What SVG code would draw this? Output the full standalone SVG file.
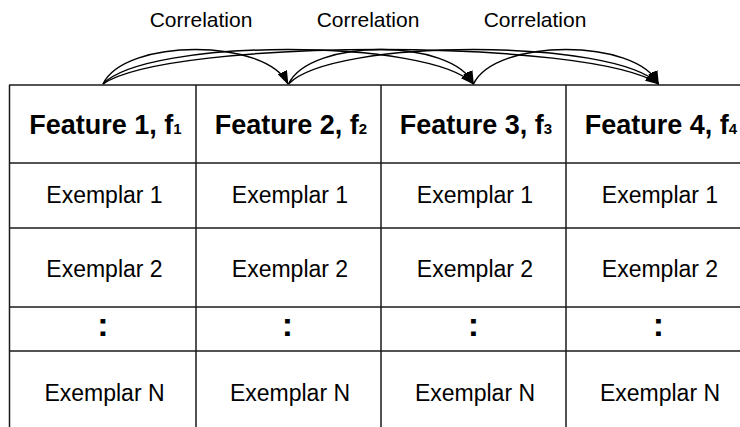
<svg xmlns="http://www.w3.org/2000/svg" width="740" height="427" viewBox="0 0 740 427">
  <style>
    .grid { stroke: #1a1a1a; stroke-width: 1.5; fill: none; }
    .hdr { font-family: "Liberation Sans", Arial, sans-serif; font-weight: bold; font-size: 27px; fill: #000; text-anchor: middle; }
    .sub { font-size: 15px; }
    .cell { font-family: "Liberation Sans", Arial, sans-serif; font-size: 23px; fill: #000; text-anchor: middle; }
    .dots { font-family: "Liberation Sans", Arial, sans-serif; font-weight: bold; font-size: 34px; fill: #000; text-anchor: middle; }
    .lbl { font-family: "Liberation Sans", Arial, sans-serif; font-size: 21px; fill: #000; text-anchor: middle; }
    .arc { stroke: #000; stroke-width: 1.5; fill: none; marker-end: url(#arrow); }
  </style>
  <defs>
    <marker id="arrow" markerUnits="userSpaceOnUse" viewBox="0 0 14 10" refX="13" refY="5" markerWidth="14" markerHeight="10" orient="auto">
      <path d="M0,0 L14,5 L0,10 z" fill="#000"/>
    </marker>
  </defs>
  <rect x="0" y="0" width="740" height="427" fill="#fff"/>

  <g id="table-grid" class="grid">
    <line x1="9" y1="85" x2="740" y2="85"/>
    <line x1="9" y1="163" x2="740" y2="163"/>
    <line x1="9" y1="228" x2="740" y2="228"/>
    <line x1="9" y1="307" x2="740" y2="307"/>
    <line x1="9" y1="351" x2="740" y2="351"/>
    <line x1="9.5" y1="85" x2="9.5" y2="427"/>
    <line x1="196" y1="85" x2="196" y2="427"/>
    <line x1="381" y1="85" x2="381" y2="427"/>
    <line x1="566" y1="85" x2="566" y2="427"/>
  </g>

  <g id="feature1">
    <text class="hdr" x="105.5" y="134">Feature 1, f<tspan class="sub">1</tspan></text>
    <text class="cell" x="104.5" y="203">Exemplar 1</text>
    <text class="cell" x="104.5" y="277">Exemplar 2</text>
    <text class="dots" x="103" y="336">:</text>
    <text class="cell" x="104.5" y="401">Exemplar N</text>
  </g>
  <g id="feature2">
    <text class="hdr" x="291" y="134">Feature 2, f<tspan class="sub">2</tspan></text>
    <text class="cell" x="290" y="203">Exemplar 1</text>
    <text class="cell" x="290" y="277">Exemplar 2</text>
    <text class="dots" x="287.5" y="336">:</text>
    <text class="cell" x="290" y="401">Exemplar N</text>
  </g>
  <g id="feature3">
    <text class="hdr" x="476" y="134">Feature 3, f<tspan class="sub">3</tspan></text>
    <text class="cell" x="475" y="203">Exemplar 1</text>
    <text class="cell" x="475" y="277">Exemplar 2</text>
    <text class="dots" x="473.5" y="336">:</text>
    <text class="cell" x="475" y="401">Exemplar N</text>
  </g>
  <g id="feature4">
    <text class="hdr" x="661" y="134">Feature 4, f<tspan class="sub">4</tspan></text>
    <text class="cell" x="660" y="203">Exemplar 1</text>
    <text class="cell" x="660" y="277">Exemplar 2</text>
    <text class="dots" x="658.5" y="336">:</text>
    <text class="cell" x="660" y="401">Exemplar N</text>
  </g>

  <g id="labels">
    <text class="lbl" x="201" y="27">Correlation</text>
    <text class="lbl" x="368" y="27">Correlation</text>
    <text class="lbl" x="535" y="27">Correlation</text>
  </g>

  <g id="connectors">
    <path class="arc" d="M103,84 C125,38 266,38 288,84"/>
    <path class="arc" d="M103,84 C147,38 429,38 473.5,84"/>
    <path class="arc" d="M103,84 C170,38 591,38 658.5,84"/>
    <path class="arc" d="M288.5,84 C310.5,38 451.5,38 473.5,84"/>
    <path class="arc" d="M288.5,84 C333,38 614,38 658.5,84"/>
    <path class="arc" d="M473.5,84 C495.5,38 636.5,38 658.5,84"/>
  </g>
</svg>
